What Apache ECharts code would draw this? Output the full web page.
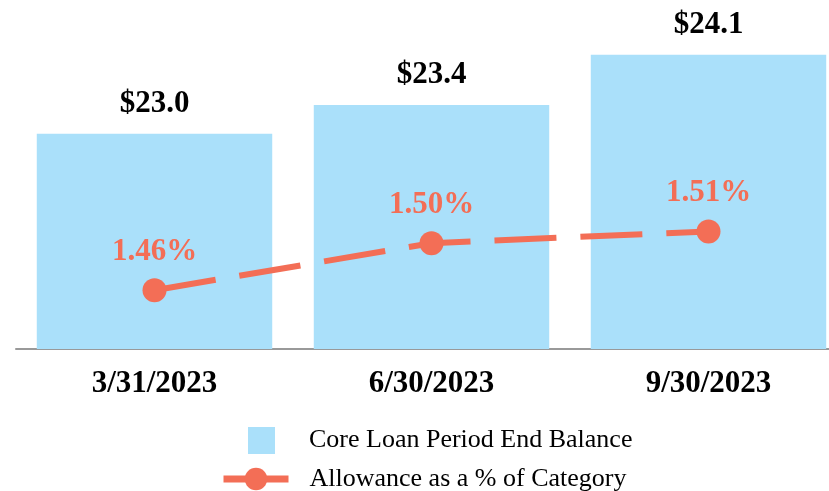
<!DOCTYPE html>
<html>
<head>
<meta charset="utf-8">
<script src="https://cdn.jsdelivr.net/npm/echarts@6/dist/echarts.min.js"></script>
<style>
  html, body { margin: 0; padding: 0; background: #fff; }
  #chart { width: 829px; height: 491px; }
</style>
</head>
<body>
<div id="chart"></div>
<script>
var categories = ['3/31/2023', '6/30/2023', '9/30/2023'];
var balance = [23.0, 23.4, 24.1];
var allowance = [1.46, 1.50, 1.51];

var barColor = '#AAE0FA';
var lineColor = '#F36E56';
var serif = '"Liberation Serif", "Times New Roman", serif';

var chart = echarts.init(document.getElementById('chart'));

var option = {
    animation: false,
    grid: { left: 16, width: 831, top: 8, bottom: 142, outerBoundsMode: 'none', containLabel: false },
    legend: [
        {
            data: [{ name: 'Core Loan Period End Balance', icon: 'rect' }],
            left: 248,
            top: 427,
            padding: 0,
            itemWidth: 27,
            itemHeight: 27,
            textStyle: { fontFamily: serif, fontSize: 26, color: '#000', padding: [0, 0, 0, 29] }
        },
        {
            data: ['Allowance as a % of Category'],
            left: 220,
            top: 466,
            padding: 0,
            itemWidth: 65,
            itemHeight: 28,
            lineStyle: { type: 'solid', width: 7 },
            textStyle: { fontFamily: serif, fontSize: 26, color: '#000', padding: [0, 0, 0, 16] }
        }
    ],
    xAxis: {
        type: 'category',
        data: categories,
        axisLine: { lineStyle: { color: '#999', width: 2 } },
        axisTick: { show: false },
        axisLabel: {
            margin: 19,
            fontFamily: serif,
            fontSize: 31,
            fontWeight: 'bold',
            color: '#000'
        }
    },
    yAxis: [
        { type: 'value', min: 20, max: 24.75, show: false },
        { type: 'value', min: 1.41, max: 1.7, show: false }
    ],
    series: [
        {
            name: 'Core Loan Period End Balance',
            type: 'bar',
            data: balance,
            barWidth: '85%',
            itemStyle: { color: barColor },
            label: {
                show: true,
                position: 'top',
                distance: 14,
                formatter: function (p) { return '$' + p.value.toFixed(1); },
                fontFamily: serif,
                fontSize: 31,
                fontWeight: 'bold',
                color: '#000'
            }
        },
        {
            name: 'Allowance as a % of Category',
            type: 'line',
            yAxisIndex: 1,
            data: allowance,
            symbol: 'circle',
            symbolSize: 24,
            itemStyle: { color: lineColor },
            lineStyle: { color: lineColor, width: 6, type: [62, 24] },
            label: {
                show: true,
                position: 'top',
                distance: 11,
                formatter: function (p) { return p.value.toFixed(2) + '%'; },
                fontFamily: serif,
                fontSize: 31,
                fontWeight: 'bold',
                color: lineColor
            }
        }
    ]
};

chart.setOption(option);
</script>
</body>
</html>
